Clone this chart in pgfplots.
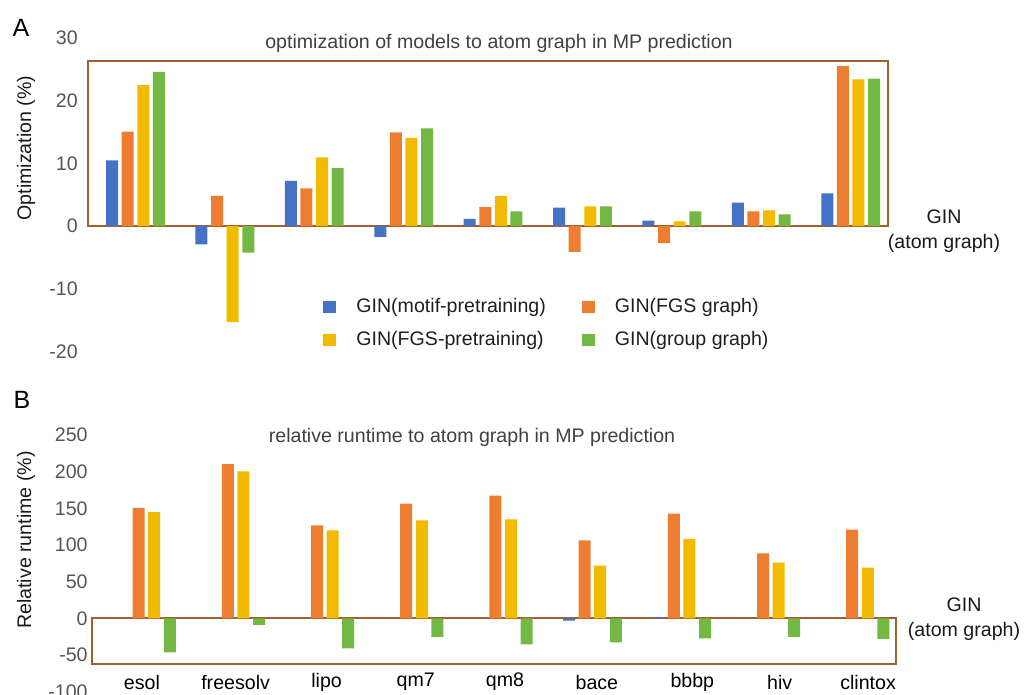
\documentclass[border=0pt]{standalone}
\usepackage{fontspec}
\setmainfont{Liberation Sans}
\usepackage{pgfplots}
\pgfplotsset{compat=1.18}
\definecolor{cblue}{HTML}{4472C4}
\definecolor{corange}{HTML}{ED7D31}
\definecolor{cyellow}{HTML}{F2BA00}
\definecolor{cgreen}{HTML}{72B843}
\definecolor{cbrown}{HTML}{A0602F}
\definecolor{tickgray}{HTML}{555555}
\definecolor{titlegray}{HTML}{404040}
\begin{document}
\begin{tikzpicture}
\fontsize{9.8}{11.8}\selectfont
\useasboundingbox (0,0) rectangle (512pt,-347.5pt);
\pgfplotsset{
  common/.style={
    scale only axis,
    axis line style={draw=none},
    major tick length=0pt,
    tick style={draw=none},
    ybar,
    bar width=6pt,
    every axis plot/.append style={draw=none},
    tick label style={font=\fontsize{9.8}{11.8}\selectfont, inner sep=0pt},
    yticklabel style={text=tickgray, anchor=east, xshift=-5pt},
    /pgf/number format/assume math mode=true,
    clip=false,
  }
}
% ---------------- Panel A ----------------
\begin{axis}[common,
  at={(44.05pt,-175.75pt)}, anchor=south west,
  x=44.7pt, y=3.135pt,
  xmin=-0.53, xmax=8.42, ymin=-20, ymax=30,
  ytick={-20,-10,0,10,20,30},
  xtick=\empty,
  legend columns=2,
  legend image code/.code={\fill[#1] (0pt,-3pt) rectangle (6.5pt,3pt);},
  legend style={at={(axis cs:2.097,-11.4)}, anchor=north west, draw=none, fill=none,
    inner sep=0pt, row sep=8pt,
    nodes={inner sep=0pt, anchor=west, text=black!88, font=\fontsize{9.8}{11.8}\selectfont},
    /tikz/every odd column/.append style={column sep=10pt},
    /tikz/every even column/.append style={column sep=18pt}},
]
\draw[cbrown, line width=1pt] (axis cs:-0.53,0) rectangle (axis cs:8.42,26.4);
\addplot[fill=cblue, bar shift=-11.7pt] coordinates {(0,10.5) (1,-2.9) (2,7.2) (3,-1.7) (4,1.17) (5,2.93) (6,0.86) (7,3.73) (8,5.2)};
\addplot[fill=corange, bar shift=-3.9pt] coordinates {(0,15.05) (1,4.8) (2,6.0) (3,14.95) (4,3.03) (5,-4.1) (6,-2.7) (7,2.35) (8,25.5)};
\addplot[fill=cyellow, bar shift=3.9pt] coordinates {(0,22.5) (1,-15.3) (2,10.95) (3,14.05) (4,4.8) (5,3.14) (6,0.75) (7,2.5) (8,23.4)};
\addplot[fill=cgreen, bar shift=11.7pt] coordinates {(0,24.6) (1,-4.25) (2,9.25) (3,15.6) (4,2.35) (5,3.14) (6,2.35) (7,1.87) (8,23.5)};
\legend{GIN(motif-pretraining),GIN(FGS graph),GIN(FGS-pretraining),GIN(group graph)}
\end{axis}
% ---------------- Panel B ----------------
\begin{axis}[common,
  at={(46.0pt,-345.8pt)}, anchor=south west,
  x=44.6pt, y=0.3665pt,
  xmin=-0.61, xmax=8.40, ymin=-100, ymax=250,
  ytick={-100,-50,0,50,100,150,200,250},
  yticklabel style={xshift=3pt},
  xtick={-0.05,1,2.02,3.02,4.02,5.05,6.12,7.1,8.09},
  xticklabels={esol,freesolv,lipo,qm7,qm8,bace,bbbp,hiv,clintox},
  xticklabel style={anchor=center, yshift=4.8pt, text=black},
]
\draw[cbrown, line width=1pt] (axis cs:-0.61,0) rectangle (axis cs:8.40,-62.3);
\addplot[fill=cblue, bar shift=-11.7pt] coordinates {(0,0) (1,0) (2,0) (3,0) (4,0) (5,-3) (6,1.5) (7,0) (8,0)};
\addplot[fill=corange, bar shift=-3.9pt] coordinates {(0,150.5) (1,210.5) (2,126.9) (3,156.4) (4,167.3) (5,106.4) (6,142.7) (7,88.7) (8,121)};
\addplot[fill=cyellow, bar shift=3.9pt] coordinates {(0,145) (1,200.5) (2,120) (3,133.7) (4,135) (5,71.8) (6,108.2) (7,75.9) (8,69)};
\addplot[fill=cgreen, bar shift=11.7pt] coordinates {(0,-46.4) (1,-9.1) (2,-41) (3,-25.5) (4,-35.5) (5,-32.7) (6,-27.3) (7,-25.5) (8,-28.2)};
\end{axis}
% ---------------- text ----------------
\node[font=\fontsize{12.5}{14}\selectfont] at (10.5pt,-14pt) {A};
\node[font=\fontsize{12.5}{14}\selectfont] at (11pt,-200pt) {B};
\node[text=titlegray] at (249.5pt,-21.5pt) {optimization of models to atom graph in MP prediction};
\node[text=titlegray] at (236pt,-218.5pt) {relative runtime to atom graph in MP prediction};
\node[rotate=90, text=black!90] at (13pt,-74pt) {Optimization (\%)};
\node[rotate=90, text=black!90] at (13pt,-270pt) {Relative runtime (\%)};
\node[align=center, text=black!90, inner sep=0pt, font=\fontsize{9.8}{12.3}\selectfont] at (472pt,-115.5pt) {GIN\\(atom graph)};
\node[align=center, text=black!90, inner sep=0pt, font=\fontsize{9.8}{12.3}\selectfont] at (482pt,-309.5pt) {GIN\\(atom graph)};
\end{tikzpicture}
\end{document}
